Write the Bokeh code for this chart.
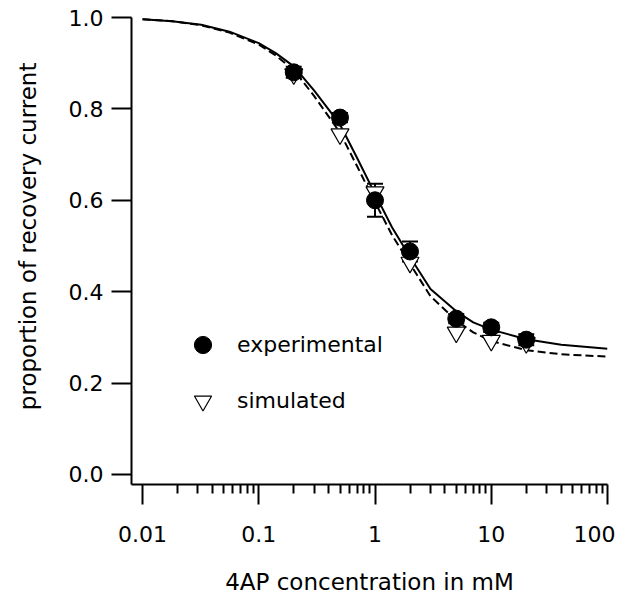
from bokeh.plotting import figure
from bokeh.models import (Range1d, FixedTicker, NumeralTickFormatter, Legend, LegendItem,
                          Whisker, TeeHead, ColumnDataSource)
from bokeh.embed import file_html
from bokeh.resources import INLINE

# ---- data ----
conc = [0.2, 0.5, 1, 2, 5, 10, 20]
experimental = [0.880, 0.781, 0.600, 0.488, 0.341, 0.322, 0.295]
exp_err = [0.012, 0.010, 0.036, 0.022, 0.010, 0.010, 0.012]
simulated = [0.876, 0.745, 0.618, 0.464, 0.311, 0.293, 0.288]

curve_x = [0.01, 0.018, 0.032, 0.056, 0.1, 0.14, 0.2, 0.3, 0.5, 0.7, 1, 1.4, 2, 3, 5, 7, 10, 20, 40, 100]
fit_experimental = [0.996, 0.992, 0.984, 0.969, 0.944, 0.922, 0.893, 0.840, 0.766, 0.693, 0.614,
                    0.541, 0.476, 0.406, 0.357, 0.333, 0.317, 0.296, 0.284, 0.275]
fit_simulated = [0.996, 0.992, 0.983, 0.967, 0.941, 0.917, 0.885, 0.828, 0.748, 0.675, 0.596,
                 0.524, 0.461, 0.390, 0.337, 0.311, 0.292, 0.272, 0.263, 0.258]

x_ticks = [0.01, 0.1, 1, 10, 100]
x_tick_labels = ["0.01", "0.1", "1", "10", "100"]
y_ticks = [0.0, 0.2, 0.4, 0.6, 0.8, 1.0]

FONT = "DejaVu Sans"

p = figure(width=615, height=597, x_axis_type="log",
           x_range=Range1d(0.00804, 100), y_range=Range1d(-0.0219, 1.0),
           output_backend="svg", toolbar_location=None,
           min_border_left=131, min_border_right=8, min_border_top=17, min_border_bottom=113)

p.outline_line_color = None
p.grid.visible = False
p.background_fill_color = "white"
p.border_fill_color = "white"

# curves
p.line(curve_x, fit_simulated, line_color="black", line_width=2, line_dash="8 4")
p.line(curve_x, fit_experimental, line_color="black", line_width=2)

# markers
tri = p.scatter(conc, simulated, marker="inverted_triangle", size=18,
                fill_color="white", line_color="black", line_width=1.2)
circ = p.scatter(conc, experimental, marker="circle", size=17,
                 fill_color="black", line_color="black")

src = ColumnDataSource(dict(x=conc,
                            upper=[v + e for v, e in zip(experimental, exp_err)],
                            lower=[v - e for v, e in zip(experimental, exp_err)]))
wh = Whisker(base="x", upper="upper", lower="lower", source=src, dimension="height",
             line_color="black", line_width=2,
             upper_head=TeeHead(size=16, line_width=2, line_color="black"),
             lower_head=TeeHead(size=16, line_width=2, line_color="black"))
p.add_layout(wh)

# axes
minor = [m * 10.0 ** e for e in range(-2, 2) for m in range(2, 10)]
xa = p.xaxis[0]
xa.ticker = FixedTicker(ticks=x_ticks, minor_ticks=minor)
xa.major_label_overrides = {t: l for t, l in zip(x_ticks, x_tick_labels)}
xa.axis_label = "4AP concentration in mM"

ya = p.yaxis[0]
ya.ticker = FixedTicker(ticks=y_ticks)
ya.formatter = NumeralTickFormatter(format="0.0")
# leading no-break spaces nudge the centred title slightly upward, as in the reference
ya.axis_label = "\u00a0\u00a0\u00a0\u00a0proportion of recovery current"

for ax in (xa, ya):
    ax.axis_line_color = "black"
    ax.axis_line_width = 2
    ax.major_tick_line_color = "black"
    ax.major_tick_line_width = 2
    ax.major_tick_in = 0
    ax.major_tick_out = 20
    ax.minor_tick_line_color = "black"
    ax.minor_tick_line_width = 2
    ax.minor_tick_in = 0
    ax.minor_tick_out = 9
    ax.major_label_text_font = FONT
    ax.major_label_text_font_size = "22px"
    ax.major_label_text_color = "black"
    ax.axis_label_text_font = FONT
    ax.axis_label_text_font_size = "23px"
    ax.axis_label_text_font_style = "normal"
    ax.axis_label_text_color = "black"

ya.minor_tick_line_color = None
xa.major_label_standoff = 21
xa.axis_label_standoff = 24
ya.major_label_standoff = 8
ya.axis_label_standoff = 25

legend = Legend(items=[LegendItem(label="experimental", renderers=[circ]),
                       LegendItem(label="simulated", renderers=[tri])],
                location=(50, 62), glyph_width=43, glyph_height=43, spacing=13,
                padding=0, margin=0, border_line_color=None, background_fill_alpha=0,
                label_standoff=13, label_text_font=FONT, label_text_font_size="22px",
                label_text_color="black")
p.add_layout(legend)

open("out.html", "w").write(file_html(p, INLINE))
